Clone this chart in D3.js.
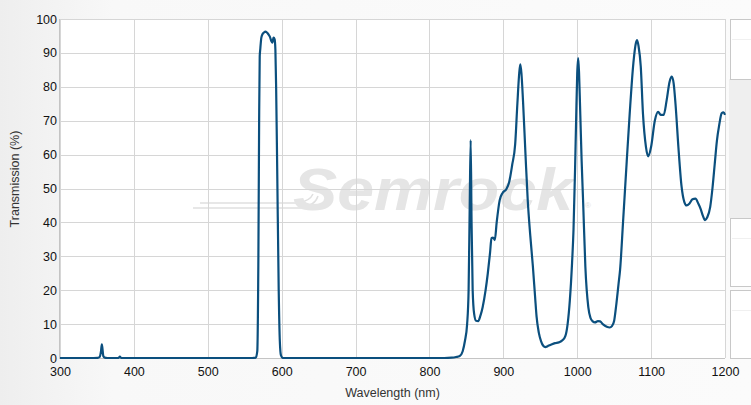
<!DOCTYPE html>
<html><head><meta charset="utf-8">
<script src="https://cdn.jsdelivr.net/npm/d3@7/dist/d3.min.js"></script>
<style>
html,body{margin:0;padding:0;background:#f7f7f7;}
svg{display:block;font-family:"Liberation Sans",Arial,sans-serif;}
</style></head>
<body><svg id="c" width="751" height="405"></svg>
<script>
const wavelength = [300,340,351,353.5,355.5,356.6,357.6,358.6,360.5,364,379,381,383,400,560,565,567,568.5,569.5,570.3,571,572.5,574,576,578,580,582,584,586,587.5,589,590.5,591.5,592.5,594,596,597.5,599,601,603,820,830,836,841,845,848,851,853,854.5,855.8,857,858.5,860.5,863,866,869,872,876,879,882,884,886,888.5,891,895,899,904,908,912,916,919,921.5,923,924.5,926.6,930,933,936.5,940,943,945,948,951,954,957,960,965,970,975,980,984,987,990,993,995,997,998.5,1000,1001.3,1002.5,1004,1006,1008,1011,1015,1018,1021,1024,1028,1031,1035,1040,1044,1047,1050,1053,1056,1058,1062,1067,1071,1076,1079.5,1081,1083,1086,1089,1093,1096,1100,1105,1109.5,1113,1117,1121,1125,1128,1130.5,1133,1137,1141,1145,1148,1152,1156,1160,1164,1167,1170,1173,1176,1180,1183,1186,1189,1192,1195.5,1198,1200];
const transmission = [0,0,0.05,0.3,2,4,2.5,0.6,0.1,0,0,0.4,0,0,0,0.1,2,30,70,89,91,94.5,95.5,96,96.3,96,95.5,94.8,93.5,93,94.5,94,91,80,55,20,5,0.8,0.1,0,0,0.1,0.3,0.6,2,5,10,20,45,64.3,40,20,13,11,10.9,12.5,15,20,25,31,35.4,35.5,34.8,40,46.5,48.7,49.8,52,57,63,75,84,86.6,84,76,60,46.6,36,27,18,12.2,7.5,5,3.6,3.2,3.5,4.0,4.4,4.6,5.2,6.5,10,17,28,38,55,70,84,88.5,84,73,58,46,27,15,11.8,10.8,10.5,10.9,10.8,9.9,9.2,9.0,9.4,11,16,22,26,40,58,72,87,93,93.8,92,86,72,62.3,59.5,62.3,70,72.6,71.7,71.7,76,81.5,83,81,75,62,51,46,45,45.6,46.8,47,45.5,44,42,40.7,41.5,44.6,50,57,64,68.5,72.2,72.5,71.7];
const xTicks = [300,400,500,600,700,800,900,1000,1100,1200];
const yTicks = [0,10,20,30,40,50,60,70,80,90,100];
const xTitle = "Wavelength (nm)";
const yTitle = "Transmission (%)";

const svg = d3.select("#c");
const x = d3.scaleLinear().domain([300,1200]).range([60,725]);
const y = d3.scaleLinear().domain([0,100]).range([358,19]);

const defs = svg.append("defs");
const bg = defs.append("linearGradient").attr("id","bg").attr("x1","0").attr("x2","1").attr("y1","0").attr("y2","0");
bg.append("stop").attr("offset","0").attr("stop-color","#eeeeee");
bg.append("stop").attr("offset","0.15").attr("stop-color","#f8f8f8");
bg.append("stop").attr("offset","1").attr("stop-color","#fbfbfb");
svg.append("rect").attr("width",751).attr("height",405).attr("fill","url(#bg)");

const rb = defs.append("linearGradient").attr("id","rb").attr("x1","0").attr("x2","1").attr("y1","0").attr("y2","0");
[["0","#d8d0f4"],["0.3","#d4ecfa"],["0.5","#eef8d8"],["0.7","#fbeecd"],["1","#f8d0d0"]].forEach(s=>rb.append("stop").attr("offset",s[0]).attr("stop-color",s[1]));

// right panel
const rp = svg.append("g");
rp.append("rect").attr("x",729).attr("y",79).attr("width",30).attr("height",139).attr("fill","#efefef");
[[19,60],[218,68],[290,68]].forEach(b=>{
  rp.append("rect").attr("x",730.5).attr("y",b[0]+0.5).attr("width",30).attr("height",b[1]).attr("fill","#ffffff").attr("stroke","#c8c8c8");
  rp.append("line").attr("x1",732).attr("x2",751).attr("y1",b[0]+20.5).attr("y2",b[0]+20.5).attr("stroke","#f0f0f0");
});

// plot area
svg.append("rect").attr("x",60).attr("y",19).attr("width",665).attr("height",339).attr("fill","#ffffff");

// watermark
const wm = svg.append("g");
wm.append("line").attr("x1",310).attr("x2",570).attr("y1",172).attr("y2",172).attr("stroke","url(#rb)").attr("stroke-width",1.5);
wm.append("line").attr("x1",305).attr("x2",575).attr("y1",176).attr("y2",176).attr("stroke","url(#rb)").attr("stroke-width",1.5);
wm.append("path").attr("d","M193,208 L300,208 Q315,206 318,196").attr("fill","none").attr("stroke","#e0e0e0").attr("stroke-width",1.5);
wm.append("path").attr("d","M200,203 L298,203 Q310,201 313,194").attr("fill","none").attr("stroke","#e0e0e0").attr("stroke-width",1.5);
wm.append("text").attr("x",293).attr("y",210).attr("font-size",60).attr("font-weight","bold").attr("font-style","italic")
  .attr("textLength",280).attr("lengthAdjust","spacingAndGlyphs").attr("fill","#e5e5e5").text("Semrock");
wm.append("text").attr("x",585).attr("y",208).attr("font-size",8).attr("fill","#e0e0e0").text("®");

// grid
svg.append("g").selectAll("line").data(yTicks).join("line")
  .attr("x1",60).attr("x2",725).attr("y1",d=>Math.round(y(d))+0.5).attr("y2",d=>Math.round(y(d))+0.5)
  .attr("stroke","#d6d6d6");
svg.append("g").selectAll("line").data(xTicks).join("line")
  .attr("y1",19).attr("y2",358).attr("x1",d=>Math.round(x(d))+0.5).attr("x2",d=>Math.round(x(d))+0.5)
  .attr("stroke","#d6d6d6");
svg.append("line").attr("x1",60).attr("x2",725).attr("y1",358.5).attr("y2",358.5).attr("stroke","#c4c4c4");
svg.append("line").attr("x1",59.5).attr("x2",59.5).attr("y1",19).attr("y2",359).attr("stroke","#c4c4c4");

// axes labels via d3 axes
const xa = svg.append("g").attr("transform","translate(0,359)").call(d3.axisBottom(x).tickValues(xTicks).tickSize(0).tickPadding(8).tickFormat(d3.format("d")));
xa.select(".domain").remove();
xa.selectAll("text").attr("font-size",12.5).attr("fill","#111").attr("font-family","Liberation Sans, Arial, sans-serif");
const ya = svg.append("g").attr("transform","translate(57,0)").call(d3.axisLeft(y).tickValues(yTicks).tickSize(0).tickPadding(0).tickFormat(d3.format("d")));
ya.select(".domain").remove();
ya.selectAll("text").attr("font-size",12.5).attr("fill","#111").attr("font-family","Liberation Sans, Arial, sans-serif");

svg.append("text").attr("x",392.5).attr("y",397).attr("text-anchor","middle").attr("font-size",12.5).attr("fill","#333").text(xTitle);
svg.append("text").attr("transform","translate(19,179) rotate(-90)").attr("text-anchor","middle").attr("font-size",12.5).attr("fill","#333").text(yTitle);

// curve
const data = wavelength.map((w,i)=>[w,transmission[i]]);
svg.append("path").datum(data)
  .attr("fill","none").attr("stroke","#0b4f7e").attr("stroke-width",2.2).attr("stroke-linejoin","round")
  .attr("d",d3.line().x(d=>x(d[0])).y(d=>y(d[1])).curve(d3.curveMonotoneX));
</script></body></html>
